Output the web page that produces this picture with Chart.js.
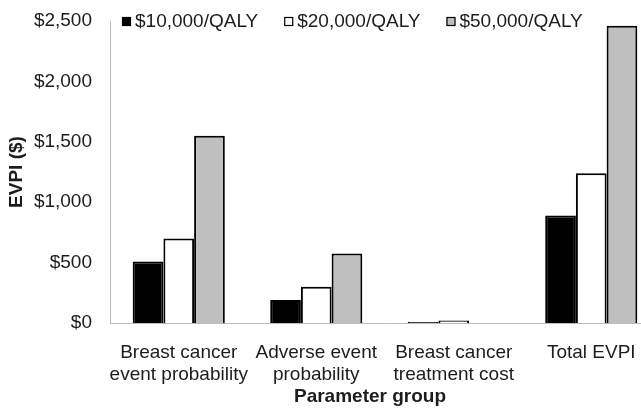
<!DOCTYPE html>
<html>
<head>
<meta charset="utf-8">
<script src="https://cdn.jsdelivr.net/npm/chart.js@4.4.1/dist/chart.umd.min.js"></script>
<style>
html,body{margin:0;padding:0;background:#fff;overflow:hidden;width:641px;height:408px;}
#wrap{position:absolute;left:0;top:0;width:660px;height:408px;}
</style>
</head>
<body>
<div id="wrap"><canvas id="c" width="660" height="408"></canvas></div>
<script>
const categories = [["Breast cancer","event probability"],["Adverse event","probability"],["Breast cancer","treatment cost"],"Total EVPI"];
const seriesNames = ["$10,000/QALY","$20,000/QALY","$50,000/QALY"];
const wtp10k = [510, 190, 8, 890];
const wtp20k = [700, 300, 20, 1240];
const wtp50k = [1550, 575, 0, 2460];
const yTicks = [0, 500, 1000, 1500, 2000, 2500];
const yTitle = "EVPI ($)";
const xTitle = "Parameter group";

const FONT = "'Liberation Sans', Arial, sans-serif";
const TEXT = "#1c1c1c";
const FS = 19;

const customText = {
  id: 'customText',
  afterDraw(chart) {
    const ctx = chart.ctx;
    const ca = chart.chartArea;
    ctx.save();
    // legend
    ctx.font = FS + "px " + FONT;
    ctx.textBaseline = 'middle';
    ctx.textAlign = 'left';
    let x = ca.left + 12;
    const y = 22;
    chart.data.datasets.forEach((ds) => {
      ctx.fillStyle = ds.backgroundColor;
      ctx.fillRect(x, y - 5, 9, 9);
      ctx.strokeStyle = '#000';
      ctx.lineWidth = 1.2;
      ctx.strokeRect(x + 0.5, y - 4.5, 8, 8);
      ctx.fillStyle = TEXT;
      ctx.fillText(ds.label, x + 13, y);
      x += 13 + ctx.measureText(ds.label).width + 26;
    });
    // y title
    ctx.font = "bold " + FS + "px " + FONT;
    ctx.translate(17, (ca.top + ca.bottom) / 2);
    ctx.rotate(-Math.PI / 2);
    ctx.textAlign = 'center';
    ctx.fillText(yTitle, 0, 0);
    ctx.restore();
    ctx.save();
    ctx.font = "bold " + FS + "px " + FONT;
    ctx.fillStyle = TEXT;
    ctx.textAlign = 'center';
    ctx.textBaseline = 'middle';
    ctx.fillText(xTitle, ca.left + 260, 397);
    ctx.restore();
  }
};

new Chart(document.getElementById('c'), {
  type: 'bar',
  data: {
    labels: categories,
    datasets: [
      {label: seriesNames[0], data: wtp10k, backgroundColor: '#000000', borderColor: '#000000', borderWidth: 2},
      {label: seriesNames[1], data: wtp20k, backgroundColor: '#ffffff', borderColor: '#000000', borderWidth: 2},
      {label: seriesNames[2], data: wtp50k, backgroundColor: '#bfbfbf', borderColor: '#000000', borderWidth: 2}
    ]
  },
  options: {
    responsive: false,
    animation: false,
    devicePixelRatio: 1,
    layout: {padding: {top: 21, left: 0, right: 0, bottom: 0}},
    datasets: {bar: {barPercentage: 1.0, categoryPercentage: 0.67}},
    plugins: {legend: {display: false}, tooltip: {enabled: false}},
    scales: {
      x: {
        grid: {display: false, drawTicks: false},
        border: {display: true, color: '#bdbdbd', width: 1},
        ticks: {color: TEXT, font: {family: FONT, size: FS, lineHeight: 1.15}, padding: 19, maxRotation: 0, autoSkip: false},
        afterFit(s) { s.height = 85; s.paddingLeft = 0; s.paddingRight = 0; }
      },
      y: {
        min: 0, max: 2500,
        afterBuildTicks(s) { s.ticks = yTicks.map(v => ({value: v})); },
        grid: {display: false, drawTicks: false},
        border: {display: true, color: '#bdbdbd', width: 1},
        ticks: {color: TEXT, font: {family: FONT, size: FS}, padding: 18,
          callback: v => '$' + Number(v).toLocaleString('en-US')},
        afterFit(s) { s.width = 110; s.paddingTop = 0; s.paddingBottom = 0; }
      }
    }
  },
  plugins: [customText]
});
</script>
</body>
</html>
